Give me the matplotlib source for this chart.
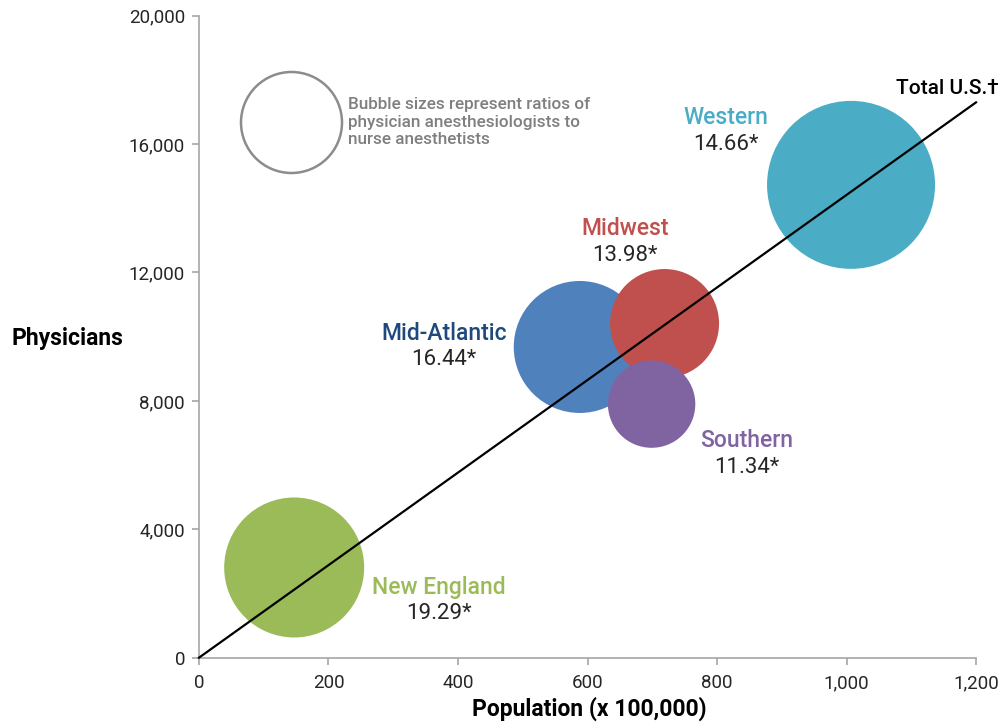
import matplotlib
matplotlib.use("Agg")
import matplotlib.pyplot as plt
from matplotlib.ticker import FuncFormatter

plt.rcParams['font.family'] = ['Roboto', 'DejaVu Sans']

# ---- data ----
regions = ["Mid-Atlantic", "Midwest", "Southern", "New England", "Western"]
population = [588, 719, 699, 147, 1007]          # x 100,000
physicians = [9680, 10410, 7900, 2810, 14730]
ratios = ["16.44*", "13.98*", "11.34*", "19.29*", "14.66*"]
bubble_radius = [66, 54.5, 43.7, 70, 84]          # relative bubble size
bubble_colors = ["#4F81BD", "#C0504D", "#8064A2", "#9BBB59", "#4BACC6"]
label_colors = ["#1F497D", "#C0504D", "#8064A2", "#9BBB59", "#4BACC6"]
label_x = [378, 658, 846, 371, 814]
label_y = [10115, 13386, 6751, 2202, 16844]

total_line_x = [0, 1200]
total_line_y = [0, 17300]

xticks = [0, 200, 400, 600, 800, 1000, 1200]
yticks = [0, 4000, 8000, 12000, 16000, 20000]

legend_radius = 50.5

# ---- figure ----
dpi = 100
fig = plt.figure(figsize=(10.06, 7.24), dpi=dpi)
ax = fig.add_axes([0.1978, 0.0916, 0.7724, 0.8867])

def s_of(r):
    return (2 * r * 72 / dpi) ** 2

ax.scatter(population, physicians, s=[s_of(r) for r in bubble_radius],
           c=bubble_colors, edgecolors='none', zorder=2, clip_on=False)

ax.plot(total_line_x, total_line_y, color='black', lw=1.6, zorder=3, clip_on=False)
ax.text(1156, 17717, "Total U.S.\u2020", ha='center', va='center', fontsize=15,
        color='black', fontweight='medium')

for name, rv, lx, ly, col in zip(regions, ratios, label_x, label_y, label_colors):
    ax.text(lx, ly, name, ha='center', va='center', fontsize=16.5,
            color=col, fontweight='medium')
    ax.text(lx, ly - 841, rv, ha='center', va='center', fontsize=16,
            color='#262626', fontweight='normal')

# legend bubble
ax.scatter([142], [16688], s=s_of(legend_radius), facecolors='white',
           edgecolors='#8C8C8C', linewidths=1.8, zorder=2)
ax.text(230, 16688, "Bubble sizes represent ratios of\nphysician anesthesiologists to\nnurse anesthetists",
        ha='left', va='center', fontsize=12.3, color='#7F7F7F', fontweight='medium',
        linespacing=1.22)

ax.set_xlim(0, 1200)
ax.set_ylim(0, 20000)
ax.set_xticks(xticks)
ax.set_yticks(yticks)
fmt = FuncFormatter(lambda v, p: f"{int(v):,}")
ax.xaxis.set_major_formatter(fmt)
ax.yaxis.set_major_formatter(fmt)

for sp in ['top', 'right']:
    ax.spines[sp].set_visible(False)
for sp in ['left', 'bottom']:
    ax.spines[sp].set_color('#A6A6A6')
    ax.spines[sp].set_linewidth(1.2)
ax.tick_params(axis='both', colors='#A6A6A6', labelcolor='#262626',
               labelsize=13.5, length=5, width=1.2)
ax.tick_params(axis='x', pad=7)
ax.tick_params(axis='y', pad=5)

fig.text(67 / 1006, 1 - 339 / 724, "Physicians", ha='center', va='center',
         fontsize=16.5, fontweight='bold', color='black')
fig.text(589 / 1006, 1 - 709 / 724, "Population (x 100,000)", ha='center', va='center',
         fontsize=16.5, fontweight='bold', color='black')

fig.savefig("out.png", dpi=dpi)
